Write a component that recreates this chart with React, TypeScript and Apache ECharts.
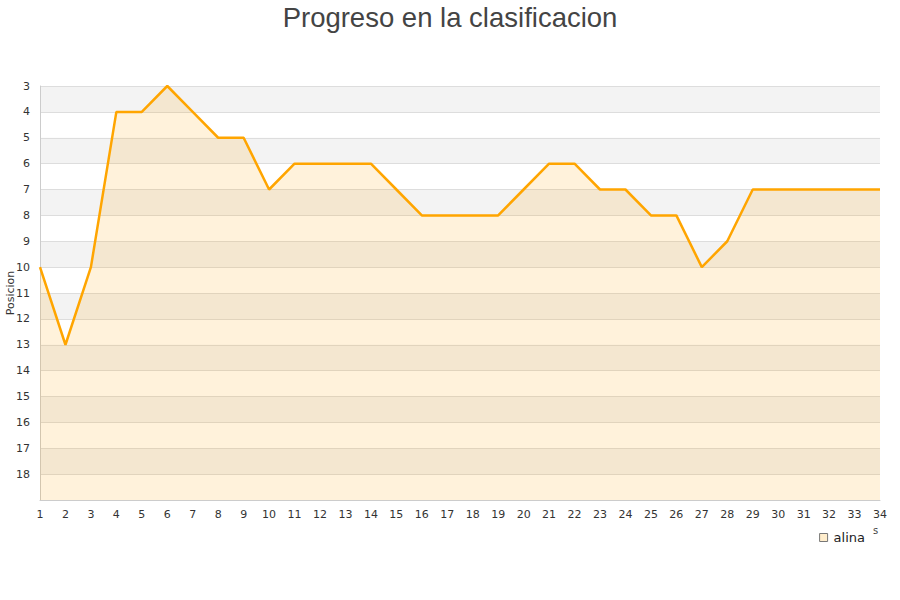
import React, { useEffect, useRef } from "react";
import * as echarts from "echarts";

const jornadas = ["1","2","3","4","5","6","7","8","9","10","11","12","13","14","15","16","17","18","19","20","21","22","23","24","25","26","27","28","29","30","31","32","33","34"];
const posiciones = [10,13,10,4,4,3,4,5,5,7,6,6,6,6,7,8,8,8,8,7,6,6,7,7,8,8,10,9,7,7,7,7,7,7];
const serieNombre = "alina";
const titulo = "Progreso en la clasificacion";
const ejeY = "Posicion";

export default function App() {
  const ref = useRef<HTMLDivElement>(null);
  useEffect(() => {
    const chart = echarts.init(ref.current!, null, { renderer: "svg" });
    chart.setOption({
      animation: false,
      title: {
        text: titulo,
        left: "center",
        top: -2,
        textStyle: { fontSize: 27.5, fontWeight: "normal", color: "#444", fontFamily: "Liberation Sans, Arial, sans-serif" },
      },
      grid: { left: 40, right: 20, top: 86, bottom: 100, containLabel: false, outerBoundsMode: "none" },
      legend: {
        data: [serieNombre],
        right: 30,
        top: 526,
        icon: "rect",
        itemWidth: 8,
        itemHeight: 8,
        itemGap: 6,
        textStyle: { fontSize: 13, color: "#222", fontFamily: "DejaVu Sans, sans-serif", padding: [0, 0, 0, 1] },
        itemStyle: { color: "#ffedcc", borderColor: "#777", borderWidth: 1 },
      },
      graphic: [
        { type: "text", left: 873, top: 525, style: { text: "s", fontSize: 10, fill: "#444", fontFamily: "DejaVu Sans, sans-serif" } },
      ],
      xAxis: {
        type: "category",
        data: jornadas,
        boundaryGap: false,
        axisLine: { lineStyle: { color: "#ccc" } },
        axisTick: { show: false },
        axisLabel: { color: "#333", fontSize: 11, margin: 9, fontFamily: "DejaVu Sans, sans-serif", interval: 0 },
        splitLine: { show: false },
      },
      yAxis: {
        type: "value",
        inverse: true,
        min: 3,
        max: 19,
        interval: 1,
        name: ejeY,
        nameLocation: "middle",
        nameGap: 24,
        nameMoveOverlap: false,
        nameTextStyle: { fontSize: 11, color: "#333", fontFamily: "DejaVu Sans, sans-serif" },
        axisLine: { show: true, lineStyle: { color: "#ccc" } },
        axisTick: { show: false },
        axisLabel: {
          color: "#333",
          fontSize: 11,
          margin: 10,
          fontFamily: "DejaVu Sans, sans-serif",
          formatter: (v: number) => (v === 19 ? "" : String(v)),
        },
        splitLine: { show: true, lineStyle: { color: "#ddd" } },
        splitArea: { show: true, areaStyle: { color: ["#f3f3f3", "#ffffff"] } },
      },
      series: [
        {
          name: serieNombre,
          type: "line",
          data: posiciones,
          showSymbol: false,
          symbol: "none",
          lineStyle: { color: "#ffa500", width: 2.5 },
          itemStyle: { color: "#ffedcc" },
          areaStyle: { color: "rgba(255,165,0,0.2)", origin: "end" },
        },
      ],
    });
    return () => chart.dispose();
  }, []);
  return <div ref={ref} style={{ width: 900, height: 600, position: "absolute", left: 0, top: 0 }} />;
}
